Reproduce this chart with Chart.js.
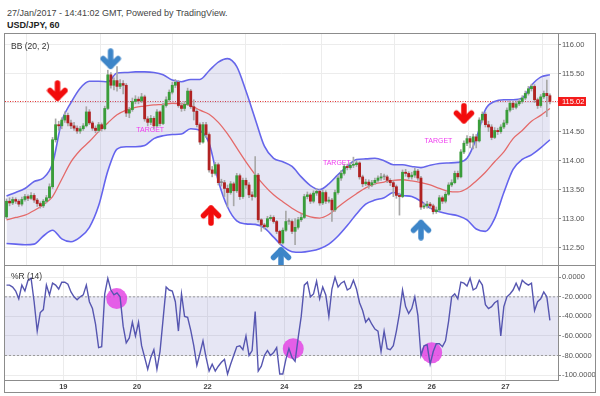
<!DOCTYPE html>
<html>
<head>
<meta charset="utf-8">
<script src="https://cdn.jsdelivr.net/npm/chart.js@4.4.1/dist/chart.umd.min.js"></script>
<style>
  body { margin: 0; background: #fff; width: 600px; height: 396px; position: relative; overflow: hidden;
         font-family: 'Liberation Sans', Arial, sans-serif; }
  .txt { position: absolute; white-space: nowrap; line-height: 10px; }
  .frame { position: absolute; left: 4px; top: 33px; width: 592px; height: 360px; border: 1px solid #8c8c8c; box-sizing: border-box; }
  .sep { position: absolute; left: 4px; top: 265px; width: 592px; height: 1px; background: #8c8c8c; }
  canvas { position: absolute; }
</style>
</head>
<body>
<div class="txt" style="left:7px; top:8px; font-size:9px; color:#444;">27/Jan/2017 - 14:41:02 GMT, Powered by TradingView.</div>
<div class="txt" style="left:7px; top:20px; font-size:9px; font-weight:bold; color:#222;">USD/JPY, 60</div>
<div class="frame"></div>
<canvas id="main" width="590" height="231" style="left:5px; top:34px;"></canvas>
<div class="sep"></div>
<canvas id="wr" width="590" height="126" style="left:5px; top:266px;"></canvas>
<div class="txt" style="left:11px; top:41px; font-size:8.5px; color:#333;">BB (20, 2)</div>
<div class="txt" style="left:11px; top:271px; font-size:8.5px; color:#333;">%R (14)</div>
<script>
// hourly USD/JPY candles, Jan 18 05:00 .. Jan 27 14:00
const opens = [
  113.03, 113.30, 113.27, 113.33, 113.30, 113.25, 113.33, 113.38, 113.35, 113.40,
  113.32, 113.26, 113.22, 113.30, 113.36, 113.55, 114.36, 114.62, 114.60, 114.70,
  114.78, 114.65, 114.60, 114.56, 114.51, 114.55, 114.60, 114.84, 114.65, 114.56,
  114.52, 114.62, 114.55, 114.90, 115.48, 115.30, 115.38, 115.28, 115.33, 115.30,
  114.82, 114.88, 115.02, 115.06, 115.03, 115.10, 114.72, 114.66, 114.73, 114.60,
  114.84, 114.64, 114.95, 115.05, 115.18, 115.30, 115.35, 114.95, 114.90, 114.97,
  115.20, 114.93, 114.85, 114.62, 114.32, 114.62, 114.45, 113.84, 113.78, 113.93,
  113.62, 113.62, 113.52, 113.45, 113.60, 113.48, 113.74, 113.38, 113.66, 113.58,
  113.41, 113.38, 113.75, 112.98, 112.89, 112.86, 113.00, 113.02, 112.95, 112.78,
  112.58, 112.80, 112.95, 112.95, 112.78, 112.85, 112.98, 113.02, 113.38, 113.41,
  113.30, 113.44, 113.47, 113.27, 113.45, 113.30, 113.32, 113.15, 113.45, 113.70,
  113.78, 113.90, 113.88, 113.92, 113.93, 113.96, 113.72, 113.60, 113.63, 113.58,
  113.62, 113.66, 113.70, 113.72, 113.72, 113.66, 113.62, 113.55, 113.40, 113.38,
  113.80, 113.78, 113.72, 113.75, 113.82, 113.70, 113.20, 113.22, 113.25, 113.22,
  113.12, 113.15, 113.36, 113.30, 113.42, 113.58, 113.62, 113.78, 113.72, 114.15,
  114.30, 114.38, 114.32, 114.41, 114.34, 114.70, 114.80, 114.62, 114.58, 114.40,
  114.52, 114.50, 114.58, 114.65, 114.87, 114.99, 114.92, 114.98, 115.02, 115.08,
  115.16, 115.24, 115.28, 115.05, 114.95, 115.10, 115.16, 115.12
];
const highs = [
  113.34, 113.36, 113.37, 113.36, 113.33, 113.37, 113.42, 113.41, 113.45, 113.43,
  113.35, 113.29, 113.33, 113.40, 113.60, 114.40, 114.72, 114.68, 114.74, 114.84,
  114.82, 114.70, 114.66, 114.60, 114.59, 114.64, 114.93, 114.88, 114.68, 114.60,
  114.66, 114.65, 114.94, 115.56, 115.52, 115.43, 115.62, 115.40, 115.38, 115.33,
  114.92, 115.08, 115.12, 115.10, 115.16, 115.13, 114.76, 114.78, 114.76, 114.88,
  114.86, 114.99, 115.10, 115.22, 115.35, 115.40, 115.38, 115.00, 115.02, 115.25,
  115.23, 115.05, 114.88, 114.65, 114.66, 114.66, 114.48, 113.90, 113.97, 113.96,
  113.68, 113.66, 113.58, 113.64, 113.63, 113.78, 113.77, 113.70, 113.70, 113.62,
  113.46, 114.07, 113.78, 113.00, 112.92, 113.04, 113.06, 113.05, 112.97, 112.80,
  112.84, 113.13, 113.00, 112.98, 113.00, 113.02, 113.08, 113.42, 113.46, 113.44,
  113.48, 113.52, 113.50, 113.49, 113.48, 113.37, 113.35, 113.49, 113.74, 113.83,
  113.94, 113.94, 113.97, 114.06, 114.00, 113.98, 113.75, 113.68, 113.67, 113.66,
  113.70, 113.74, 113.78, 113.77, 113.75, 113.69, 113.65, 113.58, 113.44, 113.84,
  113.85, 113.81, 113.80, 113.87, 113.85, 113.73, 113.27, 113.30, 113.28, 113.25,
  113.20, 113.40, 113.39, 113.46, 113.62, 113.67, 113.82, 113.82, 114.19, 114.34,
  114.43, 114.42, 114.46, 114.45, 114.74, 114.84, 114.83, 114.68, 114.62, 114.57,
  114.56, 114.62, 114.70, 114.91, 115.03, 115.02, 115.02, 115.06, 115.12, 115.20,
  115.28, 115.32, 115.31, 115.08, 115.14, 115.20, 115.39, 115.15
];
const lows = [
  113.00, 113.22, 113.24, 113.26, 113.21, 113.22, 113.30, 113.31, 113.33, 113.28,
  113.21, 113.18, 113.19, 113.27, 113.34, 113.52, 114.32, 114.52, 114.55, 114.66,
  114.60, 114.55, 114.52, 114.47, 114.47, 114.52, 114.58, 114.62, 114.52, 114.48,
  114.49, 114.51, 114.53, 114.88, 115.25, 115.22, 115.20, 115.24, 115.15, 114.76,
  114.74, 114.85, 114.98, 114.98, 115.00, 114.68, 114.60, 114.62, 114.55, 114.58,
  114.60, 114.62, 114.92, 115.02, 115.15, 115.26, 114.92, 114.85, 114.86, 114.95,
  114.90, 114.70, 114.58, 114.28, 114.30, 114.40, 113.80, 113.72, 113.75, 113.58,
  113.56, 113.38, 113.20, 113.42, 113.22, 113.45, 113.33, 113.35, 113.52, 113.36,
  113.32, 113.36, 112.94, 112.78, 112.82, 112.84, 112.97, 112.92, 112.74, 112.55,
  112.56, 112.78, 112.90, 112.74, 112.55, 112.82, 112.95, 113.00, 113.34, 113.26,
  113.27, 113.40, 113.23, 113.24, 113.26, 113.27, 112.95, 113.12, 113.42, 113.66,
  113.75, 113.84, 113.85, 113.88, 113.90, 113.68, 113.55, 113.57, 113.52, 113.55,
  113.59, 113.63, 113.66, 113.67, 113.62, 113.57, 113.38, 113.35, 113.06, 113.36,
  113.73, 113.68, 113.68, 113.71, 113.66, 113.16, 113.17, 113.18, 113.17, 113.08,
  113.09, 113.13, 113.26, 113.27, 113.40, 113.55, 113.60, 113.68, 113.70, 114.12,
  114.26, 114.22, 114.20, 114.22, 114.32, 114.66, 114.58, 114.50, 114.36, 114.38,
  114.45, 114.47, 114.55, 114.62, 114.84, 114.88, 114.89, 114.95, 114.99, 115.05,
  115.13, 115.20, 115.00, 114.90, 114.92, 115.07, 114.76, 114.98
];
const closes = [
  113.30, 113.27, 113.33, 113.30, 113.25, 113.33, 113.38, 113.35, 113.40, 113.32,
  113.26, 113.22, 113.30, 113.36, 113.55, 114.36, 114.62, 114.60, 114.70, 114.78,
  114.65, 114.60, 114.56, 114.51, 114.55, 114.60, 114.84, 114.65, 114.56, 114.52,
  114.62, 114.55, 114.90, 115.48, 115.30, 115.38, 115.28, 115.33, 115.30, 114.82,
  114.88, 115.02, 115.06, 115.03, 115.10, 114.72, 114.66, 114.73, 114.60, 114.84,
  114.64, 114.95, 115.05, 115.18, 115.30, 115.35, 114.95, 114.90, 114.97, 115.20,
  114.93, 114.85, 114.62, 114.32, 114.62, 114.45, 113.84, 113.78, 113.93, 113.62,
  113.62, 113.52, 113.45, 113.60, 113.48, 113.74, 113.38, 113.66, 113.58, 113.41,
  113.38, 113.75, 112.98, 112.89, 112.86, 113.00, 113.02, 112.95, 112.78, 112.58,
  112.80, 112.95, 112.95, 112.78, 112.85, 112.98, 113.02, 113.38, 113.41, 113.30,
  113.44, 113.47, 113.27, 113.45, 113.30, 113.32, 113.15, 113.45, 113.70, 113.78,
  113.90, 113.88, 113.92, 113.93, 113.96, 113.72, 113.60, 113.63, 113.58, 113.62,
  113.66, 113.70, 113.72, 113.72, 113.66, 113.62, 113.55, 113.40, 113.38, 113.80,
  113.78, 113.72, 113.75, 113.82, 113.70, 113.20, 113.22, 113.25, 113.22, 113.12,
  113.15, 113.36, 113.30, 113.42, 113.58, 113.62, 113.78, 113.72, 114.15, 114.30,
  114.38, 114.32, 114.41, 114.34, 114.70, 114.80, 114.62, 114.58, 114.40, 114.52,
  114.50, 114.58, 114.65, 114.87, 114.99, 114.92, 114.98, 115.02, 115.08, 115.16,
  115.24, 115.28, 115.05, 114.95, 115.10, 115.16, 115.12, 115.02
];

// Bollinger (20, 2), read every 3rd bar
const bbStep = 3;
const bbUpper = [
  113.39, 113.45, 113.52, 113.64, 113.70, 113.95, 114.68, 115.00, 115.25, 115.37,
  115.37, 115.36, 115.51, 115.52, 115.53, 115.53, 115.52, 115.48, 115.39, 115.36,
  115.40, 115.40, 115.55, 115.70, 115.76, 115.62, 115.20, 114.72, 114.25, 114.04,
  113.98, 113.90, 113.72, 113.57, 113.50, 113.60, 113.76, 113.90, 114.02, 114.03,
  114.04, 114.00, 113.93, 113.93, 113.90, 113.88, 113.92, 113.95, 113.96, 113.97,
  114.04, 114.38, 114.88, 115.02, 115.05, 115.05, 115.08, 115.30, 115.44, 115.48
];
const bbMiddle = [
  112.98, 113.02, 113.06, 113.14, 113.24, 113.38, 113.68, 113.98, 114.18, 114.33,
  114.50, 114.65, 114.79, 114.87, 114.92, 114.94, 114.96, 114.97, 114.99, 114.98,
  114.95, 114.87, 114.80, 114.66, 114.46, 114.22, 113.98, 113.76, 113.57, 113.41,
  113.29, 113.18, 113.09, 113.03, 113.01, 113.07, 113.20, 113.32, 113.43, 113.53,
  113.60, 113.63, 113.66, 113.67, 113.65, 113.62, 113.58, 113.52, 113.47, 113.46,
  113.52, 113.65, 113.80, 113.98, 114.15, 114.38, 114.52, 114.68, 114.78, 114.90
];
const bbLower = [
  112.57, 112.56, 112.55, 112.56, 112.70, 112.80, 112.65, 112.60, 112.68, 112.85,
  113.22, 113.82, 114.20, 114.24, 114.24, 114.26, 114.38, 114.43, 114.45, 114.46,
  114.55, 114.52, 114.30, 113.65, 113.20, 112.96, 112.91, 112.90, 112.84, 112.68,
  112.52, 112.43, 112.42, 112.44, 112.48, 112.56, 112.70, 112.88, 113.08, 113.25,
  113.32, 113.36, 113.45, 113.40, 113.38, 113.30, 113.18, 113.12, 113.08, 113.05,
  112.98, 112.82, 112.78, 113.00, 113.45, 113.85, 114.02, 114.10, 114.22, 114.36
];

// Williams %R (14)
const willR = [
  -8, -8, -10, -14, -22, -8, -14, -3, -1, -25,
  -55, -36, -33, -8, -18, -6, -8, -12, -5, -5,
  -7, -15, -20, -23, -20, -18, -8, -25, -32, -48,
  -72, -71, -17, -1, -13, -18, -16, -20, -50, -67,
  -62, -46, -60, -46, -70, -82, -94, -82, -74, -94,
  -76, -43, -10, -13, -14, -25, -55, -17, -40, -41,
  -54, -70, -90, -78, -65, -82, -96, -89, -96, -91,
  -87, -84, -99, -89, -80, -71, -70, -74, -60, -80,
  -75, -35, -96, -91, -80, -75, -80, -77, -72, -99,
  -99, -84, -73, -82, -86, -62, -40, -8, -5, -20,
  -17, -4, -22, -10, -18, -40, -12, 0, -10, -6,
  -4, -13, -11, -3, -12, -26, -34, -46, -42, -48,
  -53, -55, -76, -55, -73, -74, -70, -55, -37, -13,
  -30, -37, -32, -20, -39, -80, -70, -69, -89, -76,
  -68, -68, -71, -65, -45, -20, -17, -22, -5, -6,
  -9, -1, -13, -11, -3, -8, -28, -32, -30, -26,
  -24, -60, -30, -20, -17, -13, -6, -13, -3, -6,
  -8, -6, -34, -25, -22, -15, -20, -44
];

const priceTicks = [112.5, 113, 113.5, 114, 114.5, 115, 115.5, 116];
const wrTicks = [-100, -80, -60, -40, -20, 0];
const wrBand = [-20, -80];
const dayTicks = [18.5, 42.5, 65.5, 90.5, 114.5, 138.5, 162.5];
const dayLabels = ['19', '20', '22', '24', '25', '26', '27'];

// annotations
const arrowIdx = [16.6, 33.9, 66.6, 89.4, 135.0, 149.0];
const arrowPrice = [115.20, 115.75, 113.06, 112.34, 112.81, 114.81];
const arrowKind = ['redDown', 'blueDown', 'redUp', 'blueUp', 'blueUp', 'redDown'];
const targetIdx = [46.8, 107.6, 140.7];
const targetPrice = [114.52, 113.96, 114.34];
const circleIdx = [35.9, 93.4, 138.5];
const circleVal = [-21.8, -73, -77.2];

const GREEN = '#3a9d3a', RED = '#b02222', WICK = '#a8a8a8';
const BLUE_BB = '#6464ee', MID_BB = '#e46a6a', FILL = 'rgba(130,130,200,0.2)';
const GRID = '#ececec', AXIS = '#8c8c8c', TICK_TXT = '#555';
const X_MIN = -0.49, X_MAX = 179.64;

function arrowImg(color, up) {
  const c = document.createElement('canvas');
  c.width = 22; c.height = 22;
  const g = c.getContext('2d');
  if (up) { g.translate(0, 22); g.scale(1, -1); }
  g.strokeStyle = color;
  g.lineWidth = 5.5;
  g.lineCap = 'round';
  g.lineJoin = 'round';
  g.beginPath(); g.moveTo(11, 3); g.lineTo(11, 18); g.stroke();
  g.beginPath(); g.moveTo(3.5, 10.5); g.lineTo(11, 18); g.lineTo(18.5, 10.5); g.stroke();
  return c;
}
const arrowImgs = {
  redDown: arrowImg('#f20c0c', false),
  redUp: arrowImg('#f20c0c', true),
  blueDown: arrowImg('#3d85c8', false),
  blueUp: arrowImg('#3d85c8', true)
};

function fixY(scale) { scale.width = 37; scale.paddingTop = 0; scale.paddingBottom = 0; }
function fixX(h) {
  return function (scale) { scale.height = h; scale.paddingLeft = 0; scale.paddingRight = 0; };
}
function setDayTicks(scale) { scale.ticks = dayTicks.map(v => ({ value: v })); }

const bodyColors = closes.map((c, i) => c > opens[i] ? GREEN : (c < opens[i] ? RED : '#888'));
const lastClose = closes[closes.length - 1];

const mainOverlay = {
  id: 'mainOverlay',
  beforeDatasetsDraw(chart) {
    const { ctx, chartArea: a, scales } = chart;
    const y = Math.round(scales.y.getPixelForValue(lastClose)) + 0.5;
    ctx.save();
    ctx.strokeStyle = '#e23030';
    ctx.lineWidth = 1;
    ctx.setLineDash([1, 1.5]);
    ctx.beginPath(); ctx.moveTo(a.left, y); ctx.lineTo(a.right, y); ctx.stroke();
    ctx.restore();
  },
  afterDatasetsDraw(chart) {
    const { ctx, scales } = chart;
    ctx.save();
    ctx.fillStyle = '#f03cf0';
    ctx.font = '7px "Liberation Sans", Arial, sans-serif';
    ctx.textAlign = 'center';
    ctx.textBaseline = 'middle';
    targetIdx.forEach((t, k) => {
      ctx.fillText('TARGET', scales.x.getPixelForValue(t), scales.y.getPixelForValue(targetPrice[k]));
    });
    ctx.restore();
  },
  afterDraw(chart) {
    const { ctx, chartArea: a, scales } = chart;
    const y = scales.y.getPixelForValue(lastClose);
    ctx.save();
    ctx.fillStyle = '#f41c1c';
    ctx.fillRect(a.right, y - 4.5, 28, 9);
    ctx.fillStyle = '#fff';
    ctx.font = '7.5px "Liberation Sans", Arial, sans-serif';
    ctx.textBaseline = 'middle';
    ctx.fillText(lastClose.toFixed(2), a.right + 4, y + 0.5);
    ctx.restore();
  }
};

new Chart(document.getElementById('main').getContext('2d'), {
  type: 'line',
  data: {
    datasets: [
      {
        label: 'upper', data: bbUpper.map((v, k) => ({ x: k * bbStep, y: v })),
        borderColor: BLUE_BB, borderWidth: 1.6, pointRadius: 0, cubicInterpolationMode: 'monotone',
        fill: false, order: 10
      },
      {
        label: 'lower', data: bbLower.map((v, k) => ({ x: k * bbStep, y: v })),
        borderColor: BLUE_BB, borderWidth: 1.6, pointRadius: 0, cubicInterpolationMode: 'monotone',
        fill: '-1', backgroundColor: FILL, order: 9
      },
      {
        label: 'basis', data: bbMiddle.map((v, k) => ({ x: k * bbStep, y: v })),
        borderColor: MID_BB, borderWidth: 1.3, pointRadius: 0, cubicInterpolationMode: 'monotone',
        fill: false, order: 8
      },
      {
        type: 'bar', label: 'wick', data: closes.map((c, i) => ({ x: i, y: [lows[i], highs[i]] })),
        backgroundColor: WICK, barThickness: 1, grouped: false, order: 6
      },
      {
        type: 'bar', label: 'body', data: closes.map((c, i) => ({ x: i, y: [opens[i], c] })),
        backgroundColor: bodyColors, barThickness: 2.2, minBarLength: 1, grouped: false, order: 5
      },
      {
        type: 'scatter', label: 'arrows', data: arrowIdx.map((v, k) => ({ x: v, y: arrowPrice[k] })),
        pointStyle: arrowKind.map(k => arrowImgs[k]), order: 1
      }
    ]
  },
  options: {
    responsive: false,
    animation: false,
    events: [],
    layout: { padding: 0, autoPadding: false },
    plugins: { legend: { display: false }, tooltip: { enabled: false } },
    scales: {
      x: {
        type: 'linear', min: X_MIN, max: X_MAX, offset: false,
        afterBuildTicks: setDayTicks, afterFit: fixX(0),
        ticks: { display: false },
        grid: { color: GRID, drawTicks: false },
        border: { display: false }
      },
      y: {
        position: 'right', min: 112.20, max: 116.184,
        afterBuildTicks: s => { s.ticks = priceTicks.map(v => ({ value: v })); },
        afterFit: fixY,
        ticks: { callback: v => v.toFixed(2), color: TICK_TXT, padding: 1,
                 font: { family: 'Liberation Sans', size: 7.5 } },
        grid: { color: GRID, tickColor: AXIS, tickLength: 3 },
        border: { color: AXIS }
      }
    }
  },
  plugins: [mainOverlay]
});

new Chart(document.getElementById('wr').getContext('2d'), {
  type: 'line',
  data: {
    datasets: [
      {
        label: 'upper band', data: [{ x: X_MIN, y: wrBand[0] }, { x: X_MAX, y: wrBand[0] }],
        borderColor: '#9a9a9a', borderWidth: 1, borderDash: [2, 2], pointRadius: 0, fill: false, order: 10
      },
      {
        label: 'lower band', data: [{ x: X_MIN, y: wrBand[1] }, { x: X_MAX, y: wrBand[1] }],
        borderColor: '#9a9a9a', borderWidth: 1, borderDash: [2, 2], pointRadius: 0,
        fill: '-1', backgroundColor: FILL, order: 9
      },
      {
        type: 'scatter', label: 'marks', data: circleIdx.map((v, k) => ({ x: v, y: circleVal[k] })),
        pointRadius: 10.5, backgroundColor: 'rgba(228,70,228,0.85)', borderWidth: 0, order: 8
      },
      {
        label: '%R', data: willR.map((v, i) => ({ x: i, y: v })),
        borderColor: '#5656b0', borderWidth: 1.4, pointRadius: 0, tension: 0, fill: false, order: 2
      }
    ]
  },
  options: {
    responsive: false,
    animation: false,
    events: [],
    layout: { padding: 0, autoPadding: false },
    plugins: { legend: { display: false }, tooltip: { enabled: false } },
    scales: {
      x: {
        type: 'linear', min: X_MIN, max: X_MAX, offset: false,
        afterBuildTicks: setDayTicks, afterFit: fixX(11.5),
        ticks: { autoSkip: false, maxRotation: 0, padding: 2, color: '#444',
                 font: { family: 'Liberation Sans', size: 7.5, weight: 'bold' },
                 callback: v => dayLabels[dayTicks.indexOf(v)] },
        grid: { color: GRID, drawTicks: false },
        border: { color: AXIS }
      },
      y: {
        position: 'right', min: -105.6, max: 11.57,
        afterBuildTicks: s => { s.ticks = wrTicks.map(v => ({ value: v })); },
        afterFit: fixY,
        ticks: { callback: v => v.toFixed(4), color: TICK_TXT, padding: 1,
                 font: { family: 'Liberation Sans', size: 7.5 } },
        grid: { color: GRID, tickColor: AXIS, tickLength: 3 },
        border: { color: AXIS }
      }
    }
  }
});
</script>
</body>
</html>
